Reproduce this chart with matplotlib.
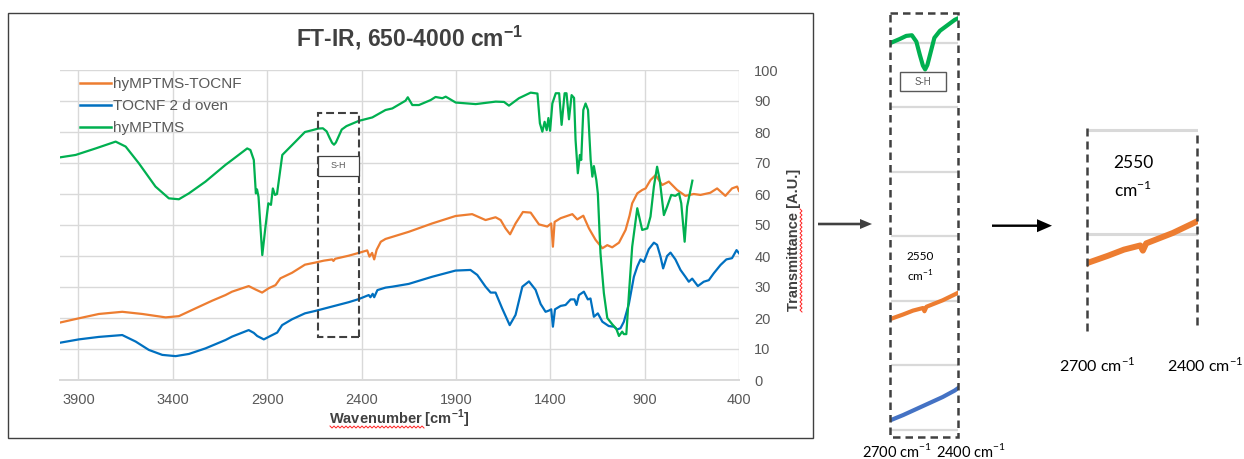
import numpy as np
import matplotlib
matplotlib.use("Agg")
import matplotlib.pyplot as plt
from matplotlib.patches import Rectangle, FancyArrow

# ---- spectra: wavenumber [cm-1] and transmittance [A.U.] ----
series_names = ["hyMPTMS-TOCNF", "TOCNF 2 d oven", "hyMPTMS"]

wn_green = [4000, 3915, 3809, 3703, 3650, 3580, 3492, 3421, 3368, 3315, 3227, 3121,
            3086, 3006, 2989, 2971, 2960, 2954, 2946, 2926, 2909, 2894, 2880, 2870,
            2859, 2848, 2820, 2794, 2750, 2700, 2660, 2630, 2605, 2585, 2570, 2556,
            2546, 2536, 2522, 2505, 2480, 2414, 2343, 2273, 2237, 2167,
            2155, 2131, 2096, 2034, 2008, 1972,
            1954, 1901, 1795, 1689, 1645, 1619, 1566, 1504, 1468, 1455, 1442, 1430,
            1419, 1410, 1401, 1389, 1371, 1353, 1340, 1324, 1314, 1301, 1287, 1274,
            1266, 1254, 1243, 1236, 1225, 1213, 1200, 1186, 1177, 1169, 1156, 1148,
            1134, 1116, 1098, 1072, 1050, 1036, 1019, 1010, 997, 983, 966, 939, 913,
            886, 869, 851, 834, 820, 798, 781, 759, 737, 718, 706, 688, 675, 647]
tr_green = [71.8, 72.6, 74.7, 76.9, 75.3, 69.9, 62.4, 58.6, 58.3, 60.2, 64.0, 69.4,
            71.0, 74.7, 74.2, 71.0, 60.2, 61.5, 59.1, 40.3, 49.5, 57.0, 56.5, 61.8,
            59.7, 60.0, 72.6, 74.2, 76.9, 80.0, 80.6, 81.1, 81.2, 80.2, 78.2, 76.5,
            75.9, 76.6, 78.5, 80.8, 81.9, 83.6, 84.7, 87.1, 87.6, 90.1,
            91.2, 88.7, 88.7, 90.3, 91.3, 90.9,
            91.4, 89.5, 89.0, 89.8, 89.7, 88.5, 90.9, 92.7, 92.4, 82.8, 80.1, 83.3,
            80.6, 84.5, 80.4, 89.2, 92.5, 92.5, 82.3, 92.5, 92.5, 84.1, 91.9, 91.0,
            77.4, 66.7, 72.6, 71.0, 87.1, 89.2, 87.1, 71.0, 65.6, 69.0, 64.5, 60.2,
            40.9, 28.0, 20.0, 18.0, 16.5, 14.2, 15.6, 14.8, 14.8, 28.0, 43.0, 55.4,
            48.4, 48.9, 52.7, 62.4, 68.8, 64.5, 53.2, 55.9, 59.7, 59.4, 60.2, 57.0,
            44.6, 55.9, 64.3]

wn_orange = [4000, 3898, 3792, 3668, 3562, 3438, 3368, 3280, 3191, 3121, 3086, 2998,
             2962, 2927, 2892, 2856, 2830, 2768, 2700, 2644, 2600, 2556, 2549, 2540,
             2468, 2415, 2370, 2358, 2344, 2333, 2320, 2298, 2273, 2150, 2026, 1902,
             1814, 1743, 1690, 1663, 1637, 1613, 1584, 1545, 1504, 1460, 1416, 1395,
             1386, 1377, 1345, 1283, 1257, 1225, 1195, 1160, 1124, 1098, 1072, 1036,
             1001, 980, 966, 939, 913, 895, 869, 842, 807, 772, 728, 684, 640, 604,
             552, 516, 472, 437, 410, 400]
tr_orange = [18.5, 19.9, 21.3, 22.0, 21.3, 20.2, 20.6, 23.1, 25.6, 27.4, 28.5, 30.3,
             29.2, 28.2, 29.6, 30.6, 32.8, 34.6, 37.2, 37.9, 38.5, 38.9, 38.4, 39.1,
             40.1, 41.0, 41.8, 39.8, 41.0, 38.9, 42.0, 44.6, 45.5, 47.8, 50.5, 52.9,
             53.5, 51.6, 52.5, 51.6, 48.9, 47.0, 50.5, 54.2, 54.0, 50.2, 49.5, 50.5,
             43.0, 51.0, 52.2, 53.5, 51.8, 53.0, 48.9, 45.2, 42.5, 43.5, 42.8, 44.3,
             48.4, 53.0, 57.0, 60.2, 61.3, 61.8, 64.5, 66.1, 62.9, 64.0, 61.3, 59.4,
             60.0, 59.7, 60.4, 61.8, 59.4, 61.8, 62.4, 61.0]

wn_blue = [4000, 3898, 3792, 3668, 3597, 3527, 3456, 3385, 3315, 3227, 3121, 3086,
           2998, 2971, 2953, 2918, 2883, 2847, 2821, 2768, 2700, 2644, 2556, 2468,
           2415, 2362, 2353, 2341, 2333, 2316, 2273, 2237, 2150, 2026, 1902, 1823,
           1787, 1743, 1716, 1690, 1655, 1615, 1584, 1548, 1513, 1478, 1451, 1425,
           1407, 1395, 1386, 1375, 1345, 1319, 1292, 1272, 1261, 1248, 1222, 1201,
           1187, 1169, 1148, 1124, 1090, 1063, 1045, 1028, 1010, 983, 957, 939, 922,
           904, 878, 851, 834, 816, 802, 781, 763, 737, 710, 684, 666, 648, 618, 587,
           560, 534, 498, 467, 437, 413, 396]
tr_blue = [12.0, 13.1, 13.9, 14.5, 12.4, 9.7, 8.1, 7.7, 8.4, 10.2, 12.9, 14.0,
           16.1, 15.2, 14.2, 13.1, 14.2, 15.3, 17.7, 19.6, 21.5, 22.3, 23.7, 25.1,
           26.1, 27.4, 26.7, 27.8, 26.7, 29.0, 29.8, 30.1, 31.0, 33.3, 35.3, 35.5,
           33.9, 30.1, 28.2, 28.2, 23.1, 17.7, 21.0, 30.1, 31.8, 29.1, 24.5, 22.0,
           22.4, 22.8, 17.2, 22.8, 23.9, 24.2, 26.0, 26.0, 24.2, 27.4, 28.5, 26.0,
           26.3, 20.4, 21.5, 18.8, 17.4, 17.2, 16.3, 16.7, 18.8, 24.7, 33.3, 36.6,
           38.9, 38.1, 42.2, 44.3, 43.6, 39.8, 36.0, 40.0, 41.1, 38.9, 35.5, 33.3,
           31.7, 32.7, 30.3, 31.7, 32.2, 34.4, 37.1, 38.9, 39.3, 41.9, 40.6]

x_ticks = [3900, 3400, 2900, 2400, 1900, 1400, 900, 400]
y_ticks = [0, 10, 20, 30, 40, 50, 60, 70, 80, 90, 100]
zoom_ticks = [20, 30, 40, 50, 60, 70, 80]
sh_region = (2415, 2630)     # wavenumber span of the S-H window
sh_peak = "2550"

ORANGE, BLUE, GREEN = "#ED7D31", "#0070C0", "#00B050"
BLUE_ZOOM = "#4472C4"
DARK, TXT, GRID = "#404040", "#595959", "#d9d9d9"
MAIN_FONT = "Liberation Sans"
NOTE_FONT = "Lato"
SUP = r"cm$^{\mathregular{-1}}$"

W, H = 1244, 459
fig = plt.figure(figsize=(W / 100, H / 100), dpi=100)
fig.patch.set_facecolor("white")


def px_rect(x0, y0, x1, y1):
    """Pixel box (top-left origin) -> figure fraction [left, bottom, width, height]."""
    return [x0 / W, 1 - y1 / H, (x1 - x0) / W, (y1 - y0) / H]


# ---------------- main spectrum panel ----------------
ax = fig.add_axes(px_rect(59.6, 70, 739, 380))
ax.set_xlim(4000, 400)
ax.set_ylim(0, 100)
ax.set_xticks(x_ticks)
ax.set_yticks(y_ticks)
ax.grid(True, color=GRID, lw=1.0)
ax.set_axisbelow(True)
for s in ax.spines.values():
    s.set_visible(False)
ax.spines["bottom"].set_visible(True)
ax.spines["bottom"].set_color(GRID)
ax.spines["bottom"].set_linewidth(1.4)
ax.yaxis.tick_right()
ax.tick_params(axis="both", length=0, labelsize=10.5, labelcolor=TXT)
ax.tick_params(axis="x", pad=9)
ax.tick_params(axis="y", pad=11)
for lab in ax.get_xticklabels() + ax.get_yticklabels():
    lab.set_fontfamily(MAIN_FONT)

l_or, = ax.plot(wn_orange, tr_orange, color=ORANGE, lw=1.6, label=series_names[0])
l_bl, = ax.plot(wn_blue, tr_blue, color=BLUE, lw=1.6, label=series_names[1])
l_gr, = ax.plot(wn_green, tr_green, color=GREEN, lw=1.6, label=series_names[2])

leg = ax.legend(handles=[l_or, l_bl, l_gr], loc="upper left",
                bbox_to_anchor=(80 / W, 1 - 77 / H), bbox_transform=fig.transFigure,
                frameon=False, handlelength=2.0, handletextpad=0.15,
                labelspacing=0.52, borderpad=0, borderaxespad=0,
                prop={"family": MAIN_FONT, "size": 11})
for t in leg.get_texts():
    t.set_color(TXT)
for h in leg.get_lines():
    h.set_linewidth(1.8)

# dashed S-H window and its tag
ax.add_patch(Rectangle((sh_region[0], 14), sh_region[1] - sh_region[0], 72,
                       fill=False, ec=DARK, lw=1.5, ls=(0, (3.8, 1.9)), zorder=5))
ax.add_patch(Rectangle((sh_region[0], 65.9), sh_region[1] - sh_region[0], 6.5,
                       fc="white", ec=DARK, lw=0.9, zorder=5))
ax.text(sum(sh_region) / 2, 69.1, "S-H", ha="center", va="center", fontsize=6.5,
        color=TXT, family=MAIN_FONT, zorder=6)

# ---------------- zoomed window (2700-2400 cm-1) ----------------
mid = fig.add_axes(px_rect(890.5, 13, 958, 437))
mid.set_xlim(2700, 2400)
mid.set_ylim(18.9, 84.65)
mid.axis("off")
for yv in zoom_ticks:
    mid.axhline(yv, xmin=0.02, xmax=0.98, color=GRID, lw=1.6, zorder=1)
mid.plot(wn_orange, tr_orange, color=ORANGE, lw=3.0, zorder=3)
mid.plot(wn_blue, tr_blue, color=BLUE_ZOOM, lw=3.0, zorder=3)
mid.plot(wn_green, tr_green, color=GREEN, lw=3.0, zorder=3)

# ---------------- close-up of the 2550 cm-1 band ----------------
rgt = fig.add_axes(px_rect(1087, 125, 1198, 335))
rgt.set_xlim(2700, 2400)
rgt.set_ylim(30.29, 50.48)
rgt.axis("off")
for yv in (40, 50):
    rgt.axhline(yv, xmin=0.02, xmax=0.98, color=GRID, lw=2.2, zorder=1)
rgt.plot(wn_orange, tr_orange, color=ORANGE, lw=4.3, zorder=3, solid_capstyle="butt")

# ---------------- overlay in pixel coordinates ----------------
ov = fig.add_axes([0, 0, 1, 1])
ov.set_xlim(0, W)
ov.set_ylim(H, 0)
ov.axis("off")
ov.patch.set_alpha(0)

# frame around the spectrum
ov.add_patch(Rectangle((8, 13.3), 805.3, 425, fill=False, ec=DARK, lw=1.0))

ov.text(410, 38, "FT-IR, 650-4000 " + SUP, ha="center", va="center", fontsize=16.5,
        fontweight="bold", color=DARK, family=MAIN_FONT)
ov.text(399, 419, "Wavenumber [" + SUP + "]", ha="center", va="center", fontsize=10.5,
        fontweight="bold", color=DARK, family=MAIN_FONT)
ov.text(794, 240, "Transmittance [A.U.]", ha="center", va="center", rotation=90,
        fontsize=10.5, fontweight="bold", color=DARK, family=MAIN_FONT)


def squiggle(x0, x1, y0, y1, step=2.0, amp=1.0):
    n = int(max(abs(x1 - x0), abs(y1 - y0)) / step) + 1
    t = np.linspace(0, 1, n)
    off = amp * np.where(np.arange(n) % 2 == 0, -1, 1)
    if abs(x1 - x0) >= abs(y1 - y0):
        ov.plot(x0 + (x1 - x0) * t, y0 + off, color="#ff2020", lw=0.7)
    else:
        ov.plot(x0 + off, y0 + (y1 - y0) * t, color="#ff2020", lw=0.7)


squiggle(330, 424, 427, 427)
squiggle(801, 801, 209, 312)

# arrows between panels
ov.add_patch(FancyArrow(818, 224, 42, 0, width=2.6, head_width=10, head_length=12,
                        length_includes_head=False, color=DARK, lw=0))
ov.add_patch(FancyArrow(992, 225.7, 45, 0, width=2.4, head_width=13, head_length=15,
                        length_includes_head=False, color="black", lw=0))

# zoomed window: dashed frame, S-H tag, labels
ov.add_patch(Rectangle((890, 12.7), 68.3, 424, fill=False, ec=DARK, lw=1.8,
                       ls=(0, (3.0, 2.0))))
ov.add_patch(Rectangle((900, 72.3), 46, 18.7, fc="white", ec=TXT, lw=1.0))
ov.text(923, 82, "S-H", ha="center", va="center", fontsize=7, color=TXT,
        family=MAIN_FONT)
ov.text(920, 257, sh_peak, ha="center", va="center", fontsize=8.5, color="black",
        family=NOTE_FONT)
ov.text(920, 276, SUP, ha="center", va="center", fontsize=8.5, color="black",
        family=NOTE_FONT)
ov.text(897, 451, "2700 " + SUP, ha="center", va="center", fontsize=10.5,
        color="black", family=NOTE_FONT)
ov.text(971, 451, "2400 " + SUP, ha="center", va="center", fontsize=10.5,
        color="black", family=NOTE_FONT)

# close-up: dashed limits and labels
ov.plot([1086.7, 1086.7], [128, 332], color=DARK, lw=1.8, ls=(0, (3.2, 2.0)))
ov.plot([1197, 1197], [135, 325], color=DARK, lw=1.8, ls=(0, (3.2, 2.0)))
ov.text(1133, 163, sh_peak, ha="center", va="center", fontsize=12.5, color="black",
        family=NOTE_FONT)
ov.text(1133, 190, SUP, ha="center", va="center", fontsize=12.5, color="black",
        family=NOTE_FONT)
ov.text(1097, 365, "2700 " + SUP, ha="center", va="center", fontsize=11.5,
        color="black", family=NOTE_FONT)
ov.text(1205, 365, "2400 " + SUP, ha="center", va="center", fontsize=11.5,
        color="black", family=NOTE_FONT)

fig.savefig("out.png", dpi=100, facecolor="white")
